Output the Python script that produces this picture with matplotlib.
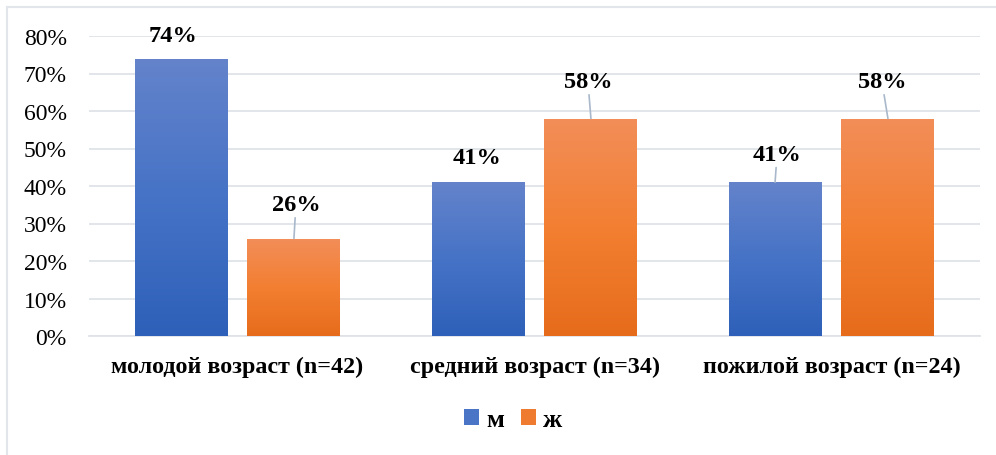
import numpy as np
import matplotlib
matplotlib.use("Agg")
import matplotlib.pyplot as plt
from matplotlib.colors import LinearSegmentedColormap
from matplotlib.patches import Patch
from matplotlib.lines import Line2D

# данные
categories = ["молодой возраст (n=42)", "средний возраст (n=34)", "пожилой возраст (n=24)"]
series = ["м", "ж"]
male = [74, 41, 41]
female = [26, 58, 58]
yticks = [0, 10, 20, 30, 40, 50, 60, 70, 80]

# смещения подписей над столбцами (в пикселях) и выноски
male_offsets = [(-8, 23), (-1, 25), (2, 28)]
female_offsets = [(2, 34), (-3, 37), (-6, 37)]
male_leaders = [False, False, True]
female_leaders = [True, True, True]

plt.rcParams["font.family"] = ["Liberation Serif", "DejaVu Serif"]

fig = plt.figure(figsize=(9.96, 4.56), dpi=100)
ax = fig.add_axes([89 / 996, 1 - 337 / 456, 891 / 996, 300 / 456])

x = np.arange(len(categories))
w = 0.313
off = 0.19

grid_col = "#DFE3E8"
blue_grad = LinearSegmentedColormap.from_list("b", ["#2E60B9", "#4673C6", "#6483CB"])
orange_grad = LinearSegmentedColormap.from_list("o", ["#E66C1B", "#F37F32", "#F28E59"])

bars_m = ax.bar(x - off, male, w, color="none", zorder=3)
bars_f = ax.bar(x + off, female, w, color="none", zorder=3)

grad = np.linspace(0, 1, 256).reshape(-1, 1)
for bars, cmap in [(bars_m, blue_grad), (bars_f, orange_grad)]:
    for b in bars:
        x0, y0 = b.get_x(), b.get_y()
        im = ax.imshow(grad, cmap=cmap, origin="lower", aspect="auto",
                       extent=(x0, x0 + b.get_width(), y0, y0 + b.get_height()),
                       zorder=3, interpolation="bilinear")
        im.set_clip_path(b)

ax.set_xlim(-0.5, 2.5)
ax.set_ylim(0, 80)
ax.set_yticks(yticks)
ax.set_yticklabels([f"{t}%" for t in yticks], fontsize=17)
ax.set_xticks(x)
ax.set_xticklabels(categories, fontsize=17.3, fontweight="bold")
ax.tick_params(axis="both", length=0)
ax.tick_params(axis="y", pad=16)
ax.tick_params(axis="x", pad=14)
ax.grid(axis="y", color=grid_col, linewidth=1.3, zorder=0)
ax.set_axisbelow(True)
for s in ["top", "right", "left"]:
    ax.spines[s].set_visible(False)
ax.spines["bottom"].set_color(grid_col)
ax.spines["bottom"].set_linewidth(1.3)

# подписи значений
for bars, vals, offs, leads in [(bars_m, male, male_offsets, male_leaders),
                                (bars_f, female, female_offsets, female_leaders)]:
    for b, v, (dx, dy), lead in zip(bars, vals, offs, leads):
        cx = b.get_x() + b.get_width() / 2
        arrow = dict(arrowstyle="-", color="#A9B8CB", lw=1.2, shrinkA=0, shrinkB=0) if lead else None
        ax.annotate(f"{v}%", xy=(cx, v), xytext=(dx, dy), textcoords="offset pixels",
                    ha="center", va="center", fontsize=17.6, fontweight="bold",
                    arrowprops=arrow, zorder=5)

handles = [Patch(facecolor="#4A74C6"), Patch(facecolor="#EF7B30")]
leg = fig.legend(handles, series, loc="center", bbox_to_anchor=(513 / 996, 1 - 421 / 456),
                 ncol=2, frameon=False, handlelength=0.57, handleheight=0.57,
                 handletextpad=0.25, columnspacing=0.65,
                 prop={"size": 19, "weight": "bold"})

# рамка области диаграммы
fig.add_artist(Line2D([7 / 996, 7 / 996], [0, 1 - 8 / 456], color="#E2E6EA", lw=1.5,
                      transform=fig.transFigure))
fig.add_artist(Line2D([7 / 996, 1], [1 - 8 / 456, 1 - 8 / 456], color="#E2E6EA", lw=1.5,
                      transform=fig.transFigure))

fig.savefig("out.png", dpi=100, facecolor="white")
